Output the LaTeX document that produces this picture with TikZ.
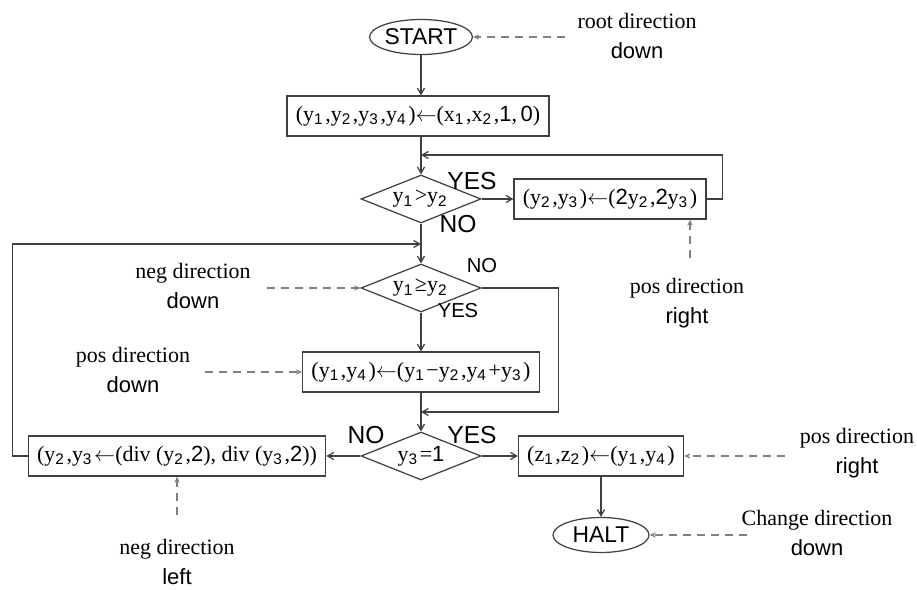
\documentclass[tikz,border=0pt]{standalone}
\usepackage{fontspec}
\setmainfont{Liberation Serif}
\setsansfont{Liberation Sans}
\usetikzlibrary{shapes.geometric,arrows.meta}
\newcommand\ix[1]{\textsubscript{\sffamily#1}\kern1pt}
\newcommand\dg[1]{{\sffamily#1}}
\newcommand\larr{\ensuremath{\leftarrow}}

\begin{document}
\begin{tikzpicture}[x=0.02cm,y=-0.02cm,
    every node/.style={font=\fontsize{12.5}{17}\selectfont},
    line/.style={draw=black!75,line width=0.7pt},
    flow/.style={line,-{Straight Barb[length=3.5pt,width=4pt]}},
    hint/.style={draw=black!50,line width=0.7pt,dash pattern=on 4.5pt off 3.5pt,
      -{Stealth[length=3.5pt,width=3pt]}},
    term/.style={line,ellipse,minimum width=1.92cm,minimum height=0.7cm,inner sep=0pt,
      font=\sffamily\fontsize{13}{15}\selectfont},
    proc/.style={line,rectangle,minimum height=0.8cm,inner xsep=5pt},
    test/.style={line,diamond,aspect=2.5,inner sep=0pt,minimum width=2.4cm,minimum height=0.96cm},
    note/.style={align=center,inner sep=0pt},
    big/.style={font=\sffamily\fontsize{14}{16}\selectfont,inner sep=0pt},
    small/.style={font=\sffamily\fontsize{11.5}{13}\selectfont,inner sep=0pt}]
  \useasboundingbox (0,0) rectangle (917,590);

  \node[term] (start) at (421,37) {START};
  \node[proc] (init) at (418,116) {(y\ix1,y\ix2,y\ix3,y\ix4)\larr(x\ix1,x\ix2,\dg1,\,\dg0)};
  \node[test] (gt) at (421,199) {y\ix1>y\ix2};
  \node[proc] (dbl) at (610,199) {(y\ix2,y\ix3)\larr(\dg2y\ix2,\dg2y\ix3)};
  \node[test] (ge) at (421,288) {y\ix1≥y\ix2};
  \node[proc] (sub) at (421,372) {(y\ix1,y\ix4)\larr(y\ix1−y\ix2,y\ix4+y\ix3)};
  \node[test] (one) at (421,456) {y\ix3=\dg1};
  \node[proc] (half) at (177,456) {(y\ix2,y\ix3\larr(div (y\ix2,\dg2), div (y\ix3,\dg2))};
  \node[proc] (out) at (601,456) {(z\ix1,z\ix2)\larr(y\ix1,y\ix4)};
  \node[term] (halt) at (601,535) {HALT};

  \node[big] (gtyes) at (472,181) {YES};
  \node[big] (gtno) at (458,224) {NO};
  \node[small] (geno) at (482,266) {NO};
  \node[small] (geyes) at (458,311) {YES};
  \node[big] (oneno) at (366,435) {NO};
  \node[big] (oneyes) at (472,435) {YES};

  \foreach \n/\x/\y/\l/\p in
    { root/637/36/root direction/down,
      dblnote/687/303/pos direction/right,
      genote/193/286/neg direction/down,
      subnote/133/370/pos direction/down,
      halfnote/177/562/neg direction/left,
      outnote/857/453/pos direction/right,
      haltnote/817/533/Change direction/down
    }
    \node[note] (\n) at (\x,\y) {\l\\\sffamily\p};

  \draw[flow] (start) -- (start |- init.north);
  \draw[flow] (init.south -| gt) -- (gt);
  \draw[flow] (gt) -- (dbl);
  \draw[flow] (gt) -- (ge);
  \draw[flow] (ge) -- (sub);
  \draw[flow] (sub) -- (one);
  \draw[flow] (one) -- (half);
  \draw[flow] (one) -- (out);
  \draw[flow] (out) -- (halt);

  \coordinate (j1) at (421,155);
  \coordinate (j2) at (421,244);
  \coordinate (j3) at (421,412);
  \draw[flow] (dbl.east) -- ++(16,0) |- (j1);
  \draw[flow] (half.west) -- ++(-15,0) |- (j2);
  \draw[flow] (ge.east) -- ++(77,0) |- (j3);

  \coordinate (roott) at (565,37);
  \coordinate (dblt) at (690,258);
  \coordinate (get) at (267,288);
  \coordinate (subt) at (205,372);
  \coordinate (halft) at (177,515);
  \coordinate (outt) at (785,456);
  \coordinate (haltt) at (747,535);
  \draw[hint] (roott) -- (start.east);
  \draw[hint] (dblt) -- (dblt |- dbl.south);
  \draw[hint] (get) -- (ge.west);
  \draw[hint] (subt) -- (sub.west);
  \draw[hint] (halft) -- (half.south);
  \draw[hint] (outt) -- (out.east);
  \draw[hint] (haltt) -- (halt.east);
\end{tikzpicture}
\end{document}
